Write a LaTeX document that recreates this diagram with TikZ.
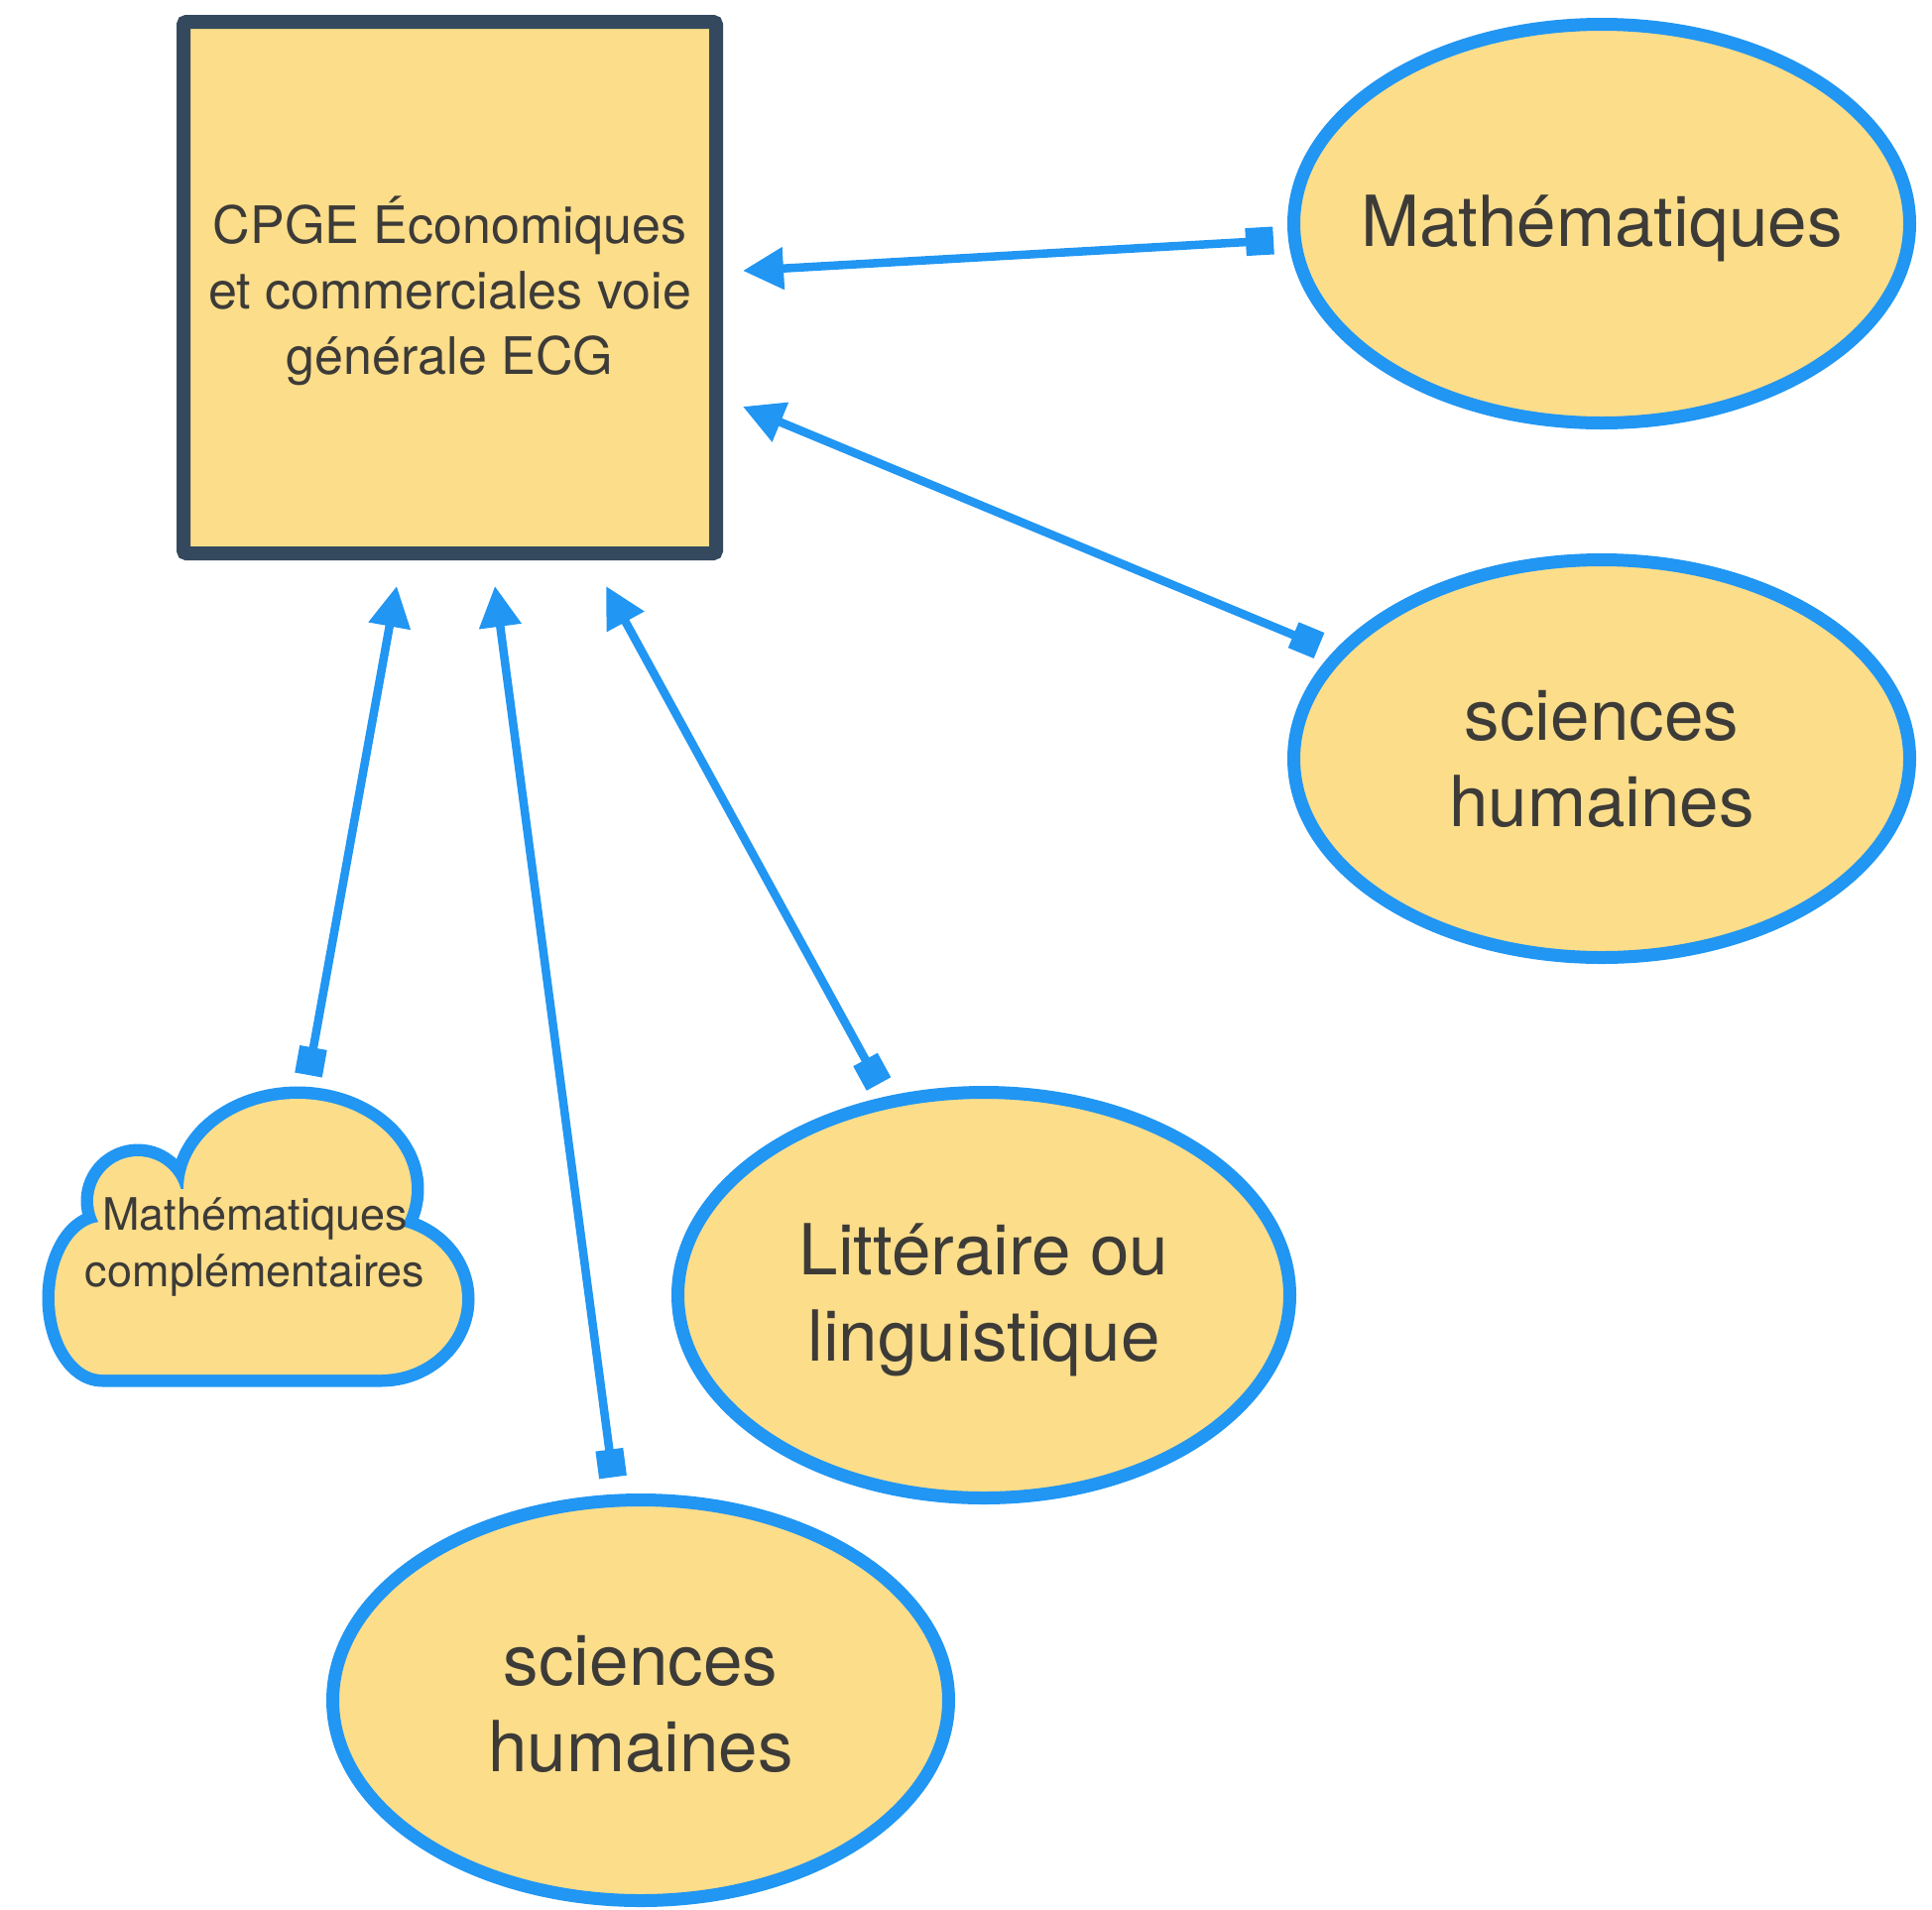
\documentclass[tikz,border=0pt]{standalone}
\usepackage{fontspec}
\setmainfont{TeX Gyre Heros}
\usetikzlibrary{shapes.geometric,arrows.meta,calc}
\definecolor{fillY}{HTML}{FBDD8A}
\definecolor{lineB}{HTML}{2196F3}
\definecolor{boxD}{HTML}{34495E}
\definecolor{txt}{HTML}{3D3B38}
\begin{document}
\begin{tikzpicture}[x=1pt,y=-1pt,
 mainbox/.style={draw=boxD, line width=14pt, fill=fillY, rounded corners=3pt, minimum width=537pt, minimum height=536pt, inner sep=0pt},
 boxtext/.style={align=center, text=txt, inner sep=0pt, font=\fontsize{52}{66}\selectfont},
 oval/.style={ellipse, draw=lineB, line width=13pt, fill=fillY, minimum width=621pt, inner sep=0pt},
 ovaltext/.style={align=center, text=txt, inner sep=0pt, font=\fontsize{71}{87}\selectfont},
 cloudtext/.style={align=center, text=txt, inner sep=0pt, font=\fontsize{45}{57}\selectfont},
 cloudpart/.style={line join=round},
 conn/.style={draw=lineB, line width=8.5pt, {Square[length=28pt,width=28pt]}-{Triangle[length=41pt,width=41pt]}},
]
\useasboundingbox (0,0) rectangle (1948,1925);
% main box
\node[mainbox] (box) at (453.5,290) {};
\node[boxtext] (boxt) at ($(box.center)+(0,3)$) {CPGE Économiques\\et commerciales voie\\générale ECG};
% ellipses
\node[oval, minimum height=402pt] (m) at (1615,225.5) {};
\node[ovaltext] (mt) at ($(m.center)+(0,5)$) {Mathématiques};
\node[oval, minimum height=401pt] (sr) at (1615,765) {};
\node[ovaltext] (srt) at (sr.center) {sciences\\humaines};
\node[oval, minimum height=409pt, minimum width=617pt] (lit) at (992,1306) {};
\node[ovaltext] (litt) at ($(lit.center)+(0,5)$) {Littéraire ou\\linguistique};
\node[oval, minimum height=404pt] (sb) at (646,1714.5) {};
\node[ovaltext] (sbt) at ($(sb.center)+(0,4)$) {sciences\\humaines};
% cloud: outline of the union of its parts
\path[cloudpart, draw=lineB, line width=25pt]
  (103,1309) ellipse [x radius=48pt, y radius=77pt]
  (384,1310) ellipse [x radius=82pt, y radius=76pt]
  (300,1199) ellipse [x radius=115pt, y radius=91pt]
  (139,1211) circle [radius=45pt]
  (103,1250) rectangle (384,1386)
  (139,1199) rectangle (384,1386);
\path[fill=fillY]
  (103,1309) ellipse [x radius=48pt, y radius=77pt]
  (384,1310) ellipse [x radius=82pt, y radius=76pt]
  (300,1199) ellipse [x radius=115pt, y radius=91pt]
  (139,1211) circle [radius=45pt];
\fill[fillY] (103,1250) rectangle (384,1386) (139,1199) rectangle (384,1386);
\node[cloudtext] (cl) at (257,1257) {Mathématiques\\complémentaires};
% connectors
\draw[conn] ($(m.west)+(-14,17)$) -- ($(box.east)+(20,-17)$);
\draw[conn] ($(sr.west)+(32,-114)$) -- ($(box.east)+(20,120)$);
\draw[conn] ($(cl.center)+(54,-173)$) -- ($(box.south)+(-53.5,26)$);
\draw[conn] ($(sb.north)+(-28,-16.5)$) -- ($(box.south)+(45.5,26)$);
\draw[conn] ($(lit.north)+(-106,-2)$) -- ($(box.south)+(157.5,26)$);
\end{tikzpicture}
\end{document}
